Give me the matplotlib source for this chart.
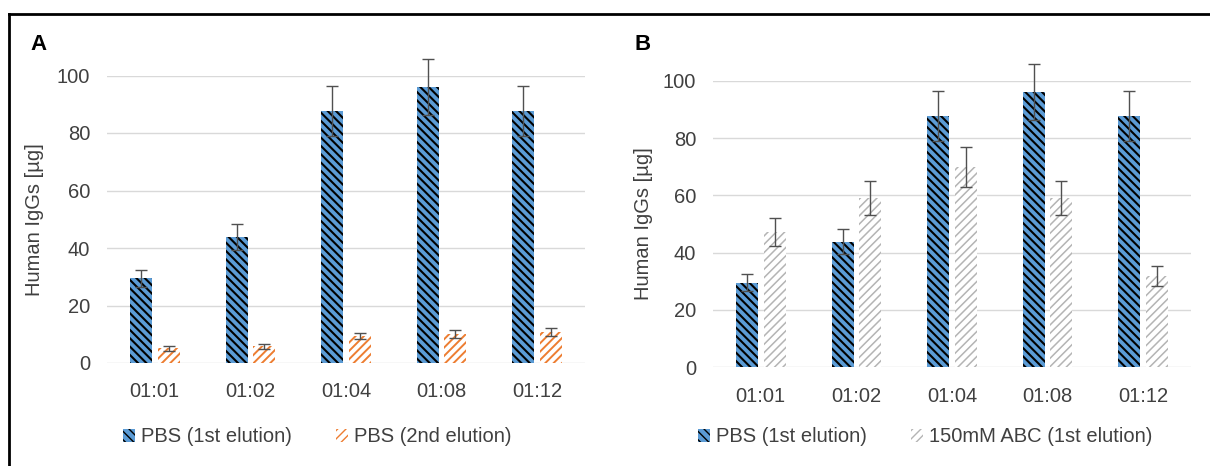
import numpy as np
import matplotlib
matplotlib.use("Agg")
import matplotlib.pyplot as plt
from matplotlib.patches import Patch
from matplotlib.lines import Line2D

plt.rcParams["font.family"] = ["Liberation Sans", "DejaVu Sans"]

# ── data ─────────────────────────────────────────────────────────────
ratios = ["01:01", "01:02", "01:04", "01:08", "01:12"]
pbs1 = [29.5, 43.8, 87.6, 96.0, 87.6]
pbs1_err = [3.0, 4.4, 8.8, 9.7, 8.8]
pbs2 = [5.1, 5.8, 9.4, 10.1, 10.8]
pbs2_err = [0.9, 0.9, 1.2, 1.4, 1.3]
abc1 = [47.2, 59.0, 70.0, 59.0, 32.0]
abc1_err = [5.0, 6.0, 7.0, 6.0, 3.5]

BLUE = "#5B9BD5"
ORANGE = "#ED7D31"
GREY = "#B4B4B4"
TXT = "#404040"

# hatch styles: (face, hatch colour, pattern, hatch linewidth)
ST_PBS1 = (BLUE, "black", "\\\\\\\\", 1.5)
ST_PBS2 = ("white", ORANGE, "////", 1.4)
ST_ABC = ("white", GREY, "////", 1.1)

fig = plt.figure(figsize=(12.1, 4.66), dpi=100)

# outer frame (top + left visible)
fig.add_artist(Line2D([9 / 1210, 1.0], [1 - 14 / 466, 1 - 14 / 466],
                      transform=fig.transFigure, color="black", lw=2.0))
fig.add_artist(Line2D([9 / 1210, 9 / 1210], [0.0, 1 - 14 / 466],
                      transform=fig.transFigure, color="black", lw=2.0))


def hatched_bars(ax, x, vals, errs, style, w):
    face, hc, hatch, hlw = style
    with plt.rc_context({"hatch.linewidth": hlw}):
        bars = ax.bar(x, vals, w, color=face, edgecolor=hc, hatch=hatch,
                      linewidth=0, zorder=2)
    for b in bars:
        if hasattr(b, "set_hatch_linewidth"):
            b.set_hatch_linewidth(hlw)
    ax.errorbar(x, vals, yerr=errs, fmt="none", ecolor="#505050", elinewidth=1.0,
                capsize=4.5, capthick=1.0, zorder=3, clip_on=False)
    return bars


def setup(ax, label, letter_xy, ylab_x):
    ax.set_xlim(-0.5, 4.5)
    ax.set_ylim(0, 100)
    ax.set_yticks(range(0, 101, 20))
    ax.set_xticks(range(len(ratios)))
    ax.set_xticklabels(ratios)
    for s in ax.spines.values():
        s.set_visible(False)
    ax.grid(axis="y", color="#d9d9d9", lw=1.0, zorder=0)
    ax.set_axisbelow(True)
    ax.tick_params(length=0, labelsize=14.5, colors=TXT)
    ax.tick_params(axis="y", pad=12)
    ax.tick_params(axis="x", pad=14)
    fig.text(ylab_x, ax.get_position().y0 + ax.get_position().height / 2,
             "Human IgGs [µg]", rotation=90, ha="center", va="center",
             fontsize=14.5, color=TXT)
    fig.text(letter_xy[0], letter_xy[1], label, fontsize=16, fontweight="bold",
             ha="left", va="center")


x = np.arange(len(ratios))
w = 0.23
off = 0.145

# ── panel A ──────────────────────────────────────────────────────────
axA = fig.add_axes([107 / 1210, 1 - 363 / 466, 478 / 1210, 287.5 / 466])
hatched_bars(axA, x - off, pbs1, pbs1_err, ST_PBS1, w)
hatched_bars(axA, x + off, pbs2, pbs2_err, ST_PBS2, w)
setup(axA, "A", (30 / 1210, 1 - 45 / 466), 35 / 1210)

# ── panel B ──────────────────────────────────────────────────────────
axB = fig.add_axes([713 / 1210, 1 - 367.3 / 466, 478 / 1210, 286.6 / 466])
hatched_bars(axB, x - off, pbs1, pbs1_err, ST_PBS1, w)
hatched_bars(axB, x + off, abc1, abc1_err, ST_ABC, w)
setup(axB, "B", (635 / 1210, 1 - 45 / 466), 643 / 1210)


# legends
def leg_handles(styles):
    hs = []
    for face, hc, hatch, hlw in styles:
        with plt.rc_context({"hatch.linewidth": hlw}):
            hs.append(Patch(facecolor=face, edgecolor=hc, hatch=hatch, linewidth=0))
    return hs


leg_kw = dict(loc="center", ncol=2, frameon=False, fontsize=14.5,
              handlelength=0.6, handleheight=0.6, handletextpad=0.3,
              columnspacing=2.2, labelcolor=TXT)
fig.legend(leg_handles([ST_PBS1, ST_PBS2]), ["PBS (1st elution)", "PBS (2nd elution)"],
           bbox_to_anchor=(317 / 1210, 1 - 437 / 466), **leg_kw)
fig.legend(leg_handles([ST_PBS1, ST_ABC]), ["PBS (1st elution)", "150mM ABC (1st elution)"],
           bbox_to_anchor=(925 / 1210, 1 - 437 / 466), **leg_kw)

fig.savefig("out.png", dpi=100)
